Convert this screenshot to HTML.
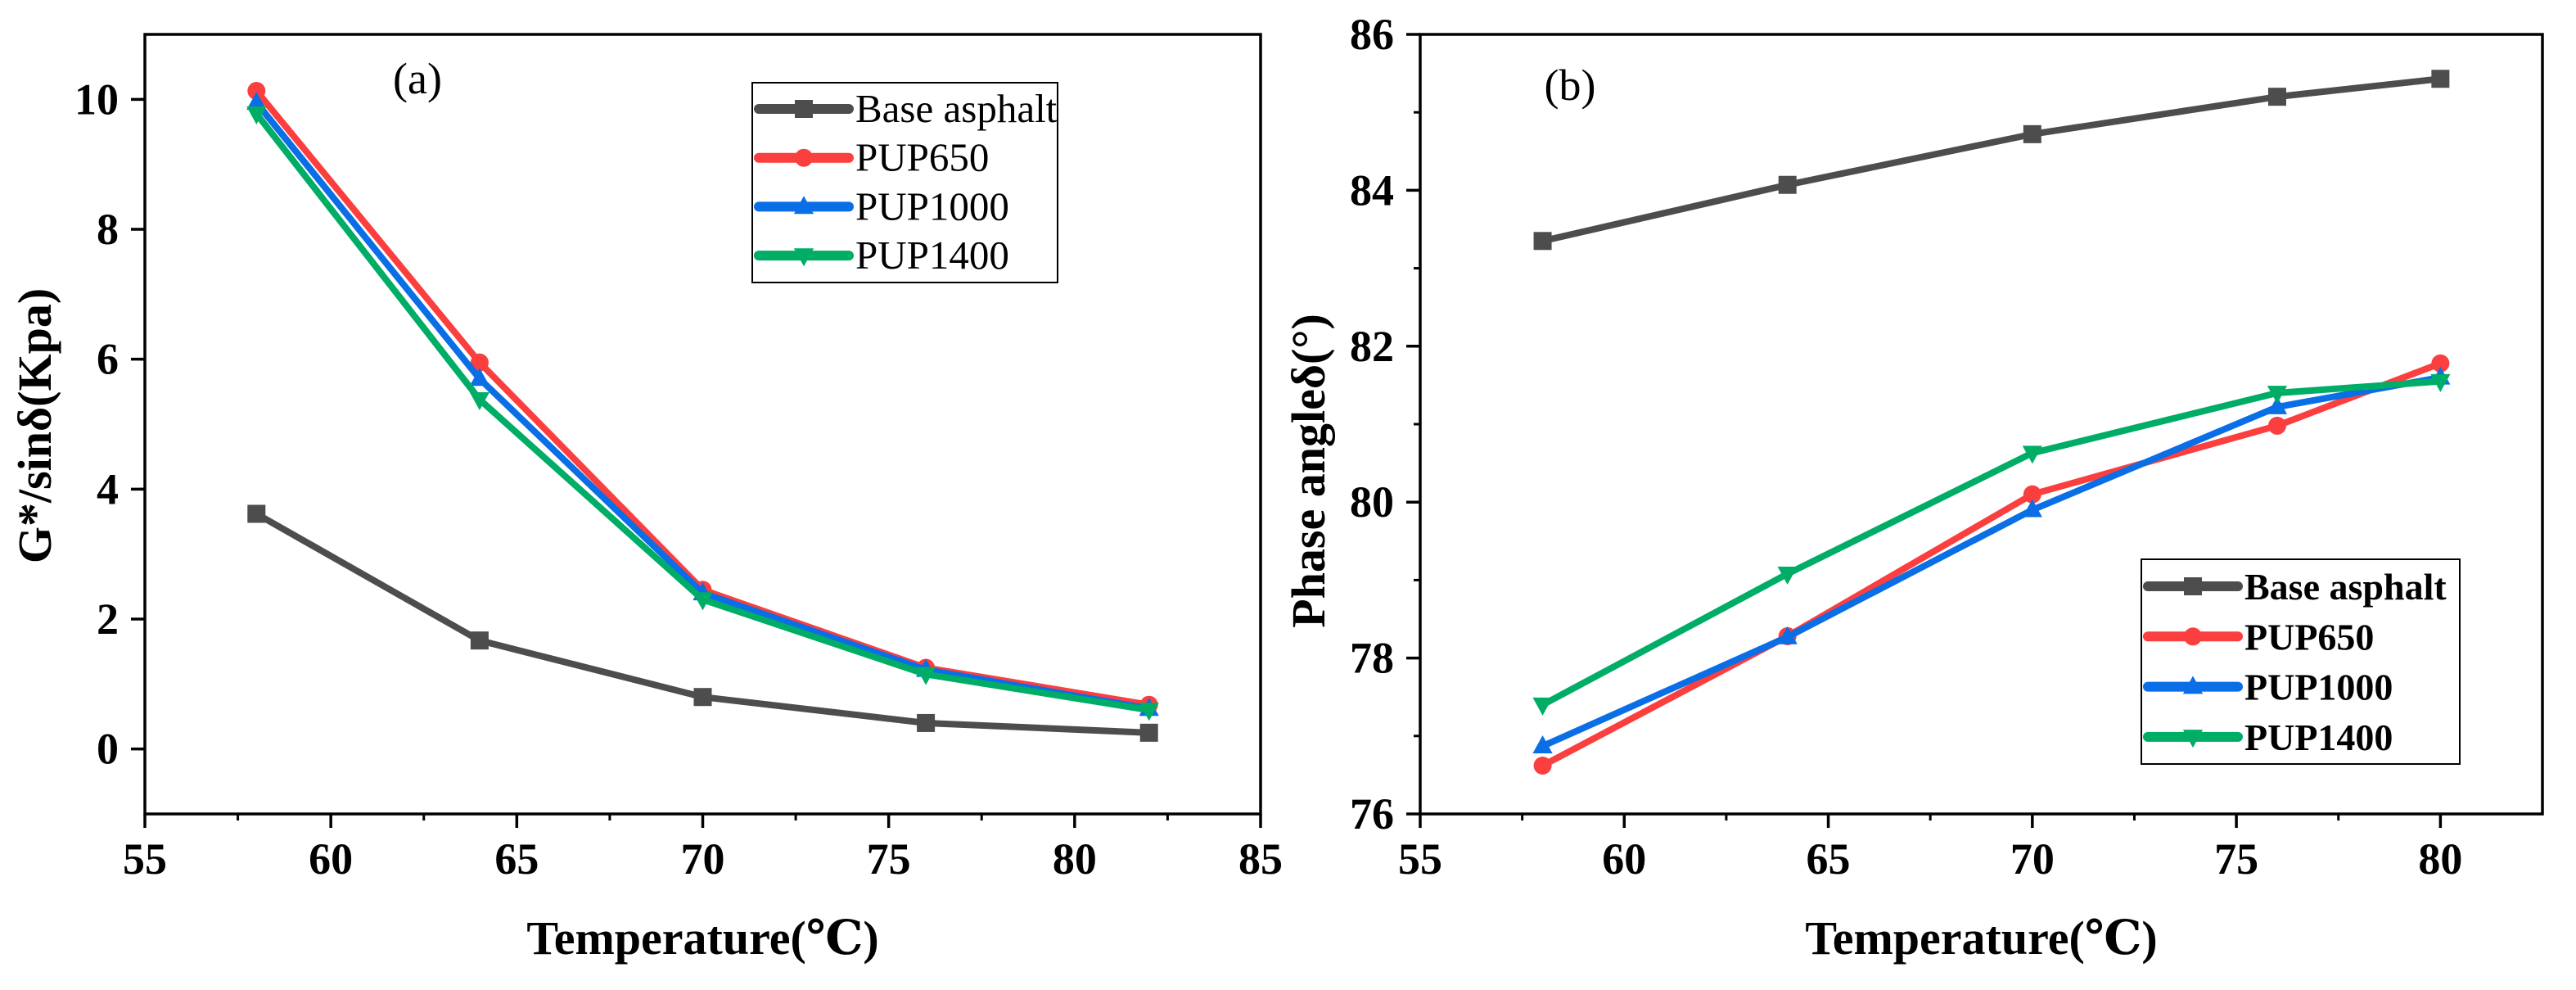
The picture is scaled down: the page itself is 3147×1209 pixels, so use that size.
<!DOCTYPE html>
<html><head><meta charset="utf-8"><style>
html,body{margin:0;padding:0;background:#fff}
svg{display:block;font-family:"Liberation Serif","DejaVu Serif",serif}
</style></head><body>
<svg id="fig" width="3147" height="1209" viewBox="0 0 3147 1209" xmlns="http://www.w3.org/2000/svg">
<g id="pa"></g>
<g id="pb"></g>
</svg>
<script>
const NS="http://www.w3.org/2000/svg";
// Panel (a) data
const tempsA=[58,64,70,76,82];
const baseA=[3.62,1.67,0.80,0.40,0.25];
const pup650A=[10.13,5.95,2.45,1.25,0.68];
const pup1000A=[9.95,5.70,2.40,1.22,0.62];
const pup1400A=[9.78,5.38,2.30,1.15,0.60];
const xTicksA=[55,60,65,70,75,80,85];
const yTicksA=[0,2,4,6,8,10];
// Panel (b) data
const tempsB=[58,64,70,76,80];
const baseB=[83.35,84.07,84.72,85.20,85.43];
const pup650B=[76.62,78.28,80.10,80.98,81.78];
const pup1000B=[76.87,78.27,79.90,81.22,81.60];
const pup1400B=[77.40,79.08,80.63,81.40,81.55];
const xTicksB=[55,60,65,70,75,80];
const yTicksB=[76,78,80,82,84,86];
const seriesNames=["Base asphalt","PUP650","PUP1000","PUP1400"];
const colors=["#4d4d4d","#fb3f3f","#0a6ee6","#00ad66"];
const markers=["square","circle","up","down"];

function el(tag,attrs,parent){const e=document.createElementNS(NS,tag);for(const k in attrs)e.setAttribute(k,attrs[k]);parent.appendChild(e);return e;}
function marker(g,type,x,y,c,s){
  let m;
  if(type==="square") m=el("rect",{x:x-s,y:y-s,width:2*s,height:2*s,fill:c},g);
  else if(type==="circle") m=el("circle",{cx:x,cy:y,r:s,fill:c},g);
  else if(type==="up") m=el("polygon",{points:`${x},${y-s*1.2} ${x-s*1.1},${y+s*0.8} ${x+s*1.1},${y+s*0.8}`,fill:c},g);
  else m=el("polygon",{points:`${x},${y+s*1.2} ${x-s*1.1},${y-s*0.8} ${x+s*1.1},${y-s*0.8}`,fill:c},g);
  return m;
}
function panel(gid,cfg){
  const g=document.getElementById(gid);
  const {L,R,T,B,xmin,xmax,ymin,ymax}=cfg;
  const sx=v=>L+(v-xmin)/(xmax-xmin)*(R-L);
  const sy=v=>B-(v-ymin)/(ymax-ymin)*(B-T);
  cfg.series.forEach((vals,i)=>{
    const sg=el("g",{},g);
    
    
    const pts=vals.map((v,j)=>sx(cfg.temps[j])+","+sy(v)).join(" ");
    const pl=el("polyline",{points:pts,fill:"none",stroke:colors[i],"stroke-width":8,"stroke-linejoin":"round"},sg);
    
    
    vals.forEach((v,j)=>{
      const m=marker(sg,markers[i],sx(cfg.temps[j]),sy(v),colors[i],11);
      
      
    });
  });
  const fr=el("rect",{x:L,y:T,width:R-L,height:B-T,fill:"none",stroke:"#000","stroke-width":3.5},g);
  
  
  const xa=el("g",{},g);
  
  
  cfg.xTicks.forEach(v=>{
    el("line",{x1:sx(v),x2:sx(v),y1:B,y2:B+17,stroke:"#000","stroke-width":3.5},xa);
    const t=el("text",{x:sx(v),y:1067,"text-anchor":"middle","font-size":54,"font-weight":"bold"},xa);
    t.textContent=v;
    
    
  });
  for(let v=xmin+2.5;v<xmax;v+=5) el("line",{x1:sx(v),x2:sx(v),y1:B,y2:B+8,stroke:"#000","stroke-width":3},xa);
  const ya=el("g",{},g);
  
  
  cfg.yTicks.forEach(v=>{
    el("line",{x1:L-17,x2:L,y1:sy(v),y2:sy(v),stroke:"#000","stroke-width":3.5},ya);
    const t=el("text",{x:L-32,y:sy(v)+18,"text-anchor":"end","font-size":54,"font-weight":"bold"},ya);
    t.textContent=v;
    
    
  });
  for(let v=ymin+1;v<ymax;v+=2) el("line",{x1:L-8,x2:L,y1:sy(v),y2:sy(v),stroke:"#000","stroke-width":3},ya);
  const xt=el("text",{x:(L+R)/2,y:1165,"text-anchor":"middle","font-size":58,"font-weight":"bold"},g);
  xt.textContent="Temperature(℃)";
  
  
  const yt=el("text",{x:0,y:0,"text-anchor":"middle","font-size":58,"font-weight":"bold",transform:`translate(${cfg.ytx},${cfg.yty}) rotate(-90)`},g);
  yt.textContent=cfg.ytitle;
  
  
  const pl=el("text",{x:cfg.labX,y:cfg.labY,"text-anchor":"middle","font-size":54},g);
  pl.textContent=cfg.label;
  
  
  const lg=el("g",{},g);
  
  
  const lb=cfg.leg;
  el("rect",{x:lb.x,y:lb.y,width:lb.w,height:lb.h,fill:"#fff",stroke:"#000","stroke-width":2},lg);
  seriesNames.forEach((n,i)=>{
    const ry=lb.r0+i*lb.dy;
    const e=el("g",{},lg);
    
    
    el("line",{x1:lb.x+8,x2:lb.x+118,y1:ry,y2:ry,stroke:colors[i],"stroke-width":12,"stroke-linecap":"round"},e);
    marker(e,markers[i],lb.x+63,ry,colors[i],11);
    const t=el("text",{x:lb.x+126,y:ry+16,"font-size":lb.fs,"font-weight":lb.bold?"bold":"normal"},e);
    t.textContent=n;
  });
}
panel("pa",{L:177,R:1540,T:42,B:994,xmin:55,xmax:85,ymin:-1,ymax:11,temps:tempsA,
  series:[baseA,pup650A,pup1000A,pup1400A],xTicks:xTicksA,yTicks:yTicksA,
  ytitle:"G*/sinδ(Kpa)",ytx:62,yty:520,label:"(a)",labX:510,labY:114,
  leg:{x:919,y:101,w:373,h:244,r0:133,dy:59.7,bold:false,fs:49}});
panel("pb",{L:1735,R:3106,T:42,B:994,xmin:55,xmax:82.5,ymin:76,ymax:86,temps:tempsB,
  series:[baseB,pup650B,pup1000B,pup1400B],xTicks:xTicksB,yTicks:yTicksB,
  ytitle:"Phase angleδ(°)",ytx:1618,yty:575,label:"(b)",labX:1918,labY:122,
  leg:{x:2616,y:683,w:389,h:250,r0:716,dy:61.3,bold:true,fs:46}});
</script>
</body></html>
